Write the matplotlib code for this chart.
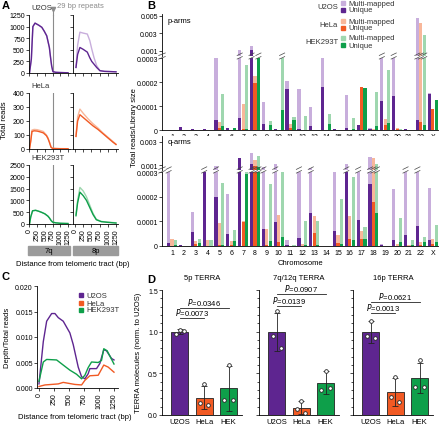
import numpy as np
import matplotlib
matplotlib.use("Agg")
import matplotlib.pyplot as plt
from matplotlib.patches import Rectangle
from matplotlib.ticker import MultipleLocator, FixedLocator

plt.rcParams['font.family'] = ['Liberation Sans', 'DejaVu Sans']
plt.rcParams['font.size'] = 5
plt.rcParams['axes.linewidth'] = 0.6
plt.rcParams['xtick.major.width'] = 0.6
plt.rcParams['ytick.major.width'] = 0.6

PURPLE, PURPLE_L = '#5E2590', '#C8AEDC'
ORANGE, ORANGE_L = '#F15A24', '#F8B79A'
GREEN, GREEN_L = '#0E9F4A', '#9FD7AF'
GREY = '#8C8C8C'

# ---------------- panel A data (distance in bp, total reads) ----------------
u2os_7q_x = [0, 60, 110, 180, 300, 400, 480, 560, 645, 690, 720, 760, 850, 1000, 1250]
u2os_7q_y = [0, 300, 1000, 1075, 1030, 985, 900, 800, 550, 300, 150, 30, 15, 10, 5]
u2os_8p_x = [30, 80, 150, 250, 375, 450, 510, 580, 660, 760, 900, 1100, 1250]
u2os_8p_multi = [120, 600, 880, 860, 840, 700, 520, 330, 160, 50, 35, 30, 25]
u2os_8p_uniq = [120, 400, 550, 510, 450, 330, 250, 190, 120, 50, 35, 30, 25]

hela_7q_x = [0, 40, 80, 150, 250, 350, 450, 550, 600, 650, 700, 750, 850, 1000, 1250]
hela_7q_multi = [0, 60, 135, 140, 138, 132, 125, 100, 80, 50, 15, 5, 4, 3, 2]
hela_7q_uniq = [0, 55, 125, 130, 128, 122, 115, 95, 75, 45, 12, 4, 3, 2, 2]
hela_8p_x = [30, 80, 150, 250, 400, 550, 700, 850, 1000, 1150, 1250]
hela_8p_multi = [90, 230, 285, 255, 215, 180, 150, 115, 85, 55, 35]
hela_8p_uniq = [90, 200, 245, 225, 195, 165, 140, 110, 80, 50, 32]

hek_7q_x = [0, 40, 100, 200, 300, 400, 500, 600, 650, 700, 750, 850, 1000, 1250]
hek_7q_y = [0, 300, 560, 580, 540, 490, 430, 330, 250, 150, 80, 50, 30, 20]
hek_8p_x = [30, 80, 150, 250, 350, 450, 550, 650, 800, 1000, 1250]
hek_8p_multi = [400, 1000, 1550, 1400, 1150, 800, 450, 200, 110, 80, 50]
hek_8p_uniq = [350, 900, 1350, 1200, 1000, 700, 400, 180, 100, 70, 40]

# ---------------- panel B data (total reads / library size) ----------------
chroms = [str(i) for i in range(1, 23)] + ['X']
p_u2os_multi = [2e-6, 12e-6, 4e-6, 4e-6, 298e-6, 8e-6, 1.1e-3, 1.6e-3, 115e-6, 4e-6, 205e-6, 170e-6,
                95e-6, 298e-6, 4e-6, 145e-6, 20e-6, 8e-6, 4e-4, 4e-4, 5e-6, 4.7e-3, 153e-6]
p_u2os_uniq = [2e-6, 12e-6, 3e-6, 3e-6, 42e-6, 8e-6, 50e-6, 1.1e-3, 25e-6, 3e-6, 170e-6, 5e-6,
               17e-6, 180e-6, 3e-6, 8e-6, 20e-6, 5e-6, 120e-6, 140e-6, 4e-6, 42e-6, 150e-6]
p_hela_multi = [0, 0, 0, 0, 33e-6, 2e-6, 110e-6, 225e-6, 0, 2e-6, 25e-6, 0,
                0, 0, 0, 0, 178e-6, 5e-6, 45e-6, 10e-6, 0, 4.2e-3, 88e-6]
p_hela_uniq = [0, 0, 0, 0, 10e-6, 0, 4e-6, 195e-6, 0, 0, 10e-6, 0,
               0, 0, 0, 0, 178e-6, 0, 20e-6, 3e-6, 0, 33e-6, 88e-6]
p_hek_multi = [0, 0, 0, 0, 150e-6, 8e-6, 270e-6, 4.5e-4, 37e-6, 4e-4, 54e-6, 60e-6,
               0, 65e-6, 0, 50e-6, 175e-6, 160e-6, 250e-6, 3e-6, 0, 2.8e-3, 125e-6]
p_hek_uniq = [0, 0, 0, 0, 17e-6, 8e-6, 3e-6, 4.5e-4, 20e-6, 83e-6, 40e-6, 0,
              0, 26e-6, 0, 3e-6, 175e-6, 17e-6, 30e-6, 0, 0, 20e-6, 125e-6]

q_u2os_multi = [4e-4, 5e-6, 137e-6, 4e-4, 9e-4, 210e-6, 1.6e-3, 2.0e-3, 8e-4, 1.1e-3, 25e-6, 4e-4,
                7.4e-4, 0, 298e-6, 1.1e-3, 4e-4, 1.7e-3, 8e-6, 230e-6, 4e-4, 4e-4, 235e-6]
q_u2os_uniq = [12e-6, 3e-6, 57e-6, 4e-4, 200e-6, 50e-6, 1.6e-3, 1.1e-3, 68e-6, 97e-6, 5e-6, 32e-6,
               135e-6, 0, 62e-6, 4e-4, 107e-6, 250e-6, 3e-6, 24e-6, 44e-6, 80e-6, 24e-6]
q_hela_multi = [28e-6, 0, 20e-6, 25e-6, 93e-6, 20e-6, 100e-6, 1.4e-3, 70e-6, 126e-6, 0, 10e-6,
                120e-6, 0, 46e-6, 123e-6, 62e-6, 1.6e-3, 0, 10e-6, 5e-6, 17e-6, 28e-6]
q_hela_uniq = [0, 0, 10e-6, 0, 5e-6, 5e-6, 97e-6, 9e-4, 5e-6, 16e-6, 0, 0,
               53e-6, 0, 12e-6, 28e-6, 28e-6, 180e-6, 0, 0, 0, 5e-6, 10e-6]
q_hek_multi = [24e-6, 0, 30e-6, 24e-6, 255e-6, 63e-6, 298e-6, 1.8e-3, 250e-6, 298e-6, 5e-6, 100e-6,
               100e-6, 0, 190e-6, 280e-6, 77e-6, 1.1e-3, 0, 115e-6, 24e-6, 35e-6, 85e-6]
q_hek_uniq = [5e-6, 0, 12e-6, 0, 5e-6, 20e-6, 290e-6, 8e-4, 20e-6, 37e-6, 0, 5e-6,
              5e-6, 0, 8e-6, 24e-6, 28e-6, 133e-6, 0, 17e-6, 5e-6, 17e-6, 17e-6]

# ---------------- panel C data (depth / total reads) ----------------
c_u2os_x = [0, 72, 128, 211, 266, 321, 404, 515, 571, 654, 710, 765, 820, 848, 959, 1014, 1080, 1125, 1208, 1250]
c_u2os_y = [0.0008, 0.0091, 0.0131, 0.0146, 0.0146, 0.0138, 0.0131, 0.0108, 0.0085, 0.0041, 0.0022,
            0.0018, 0.0028, 0.0038, 0.0038, 0.0048, 0.0075, 0.0073, 0.0058, 0.0055]
c_hela_x = [0, 100, 321, 404, 598, 710, 765, 848, 987, 1080, 1153, 1250]
c_hela_y = [0.0003, 0.0006, 0.0008, 0.0011, 0.0007, 0.0006, 0.0015, 0.0024, 0.0025, 0.0045, 0.0041, 0.0031]
c_hek_x = [0, 72, 128, 294, 404, 515, 626, 710, 765, 820, 876, 987, 1042, 1080, 1136, 1250]
c_hek_y = [0.0013, 0.0051, 0.0056, 0.0055, 0.0045, 0.0035, 0.0027, 0.0018, 0.0025, 0.0040, 0.0051,
           0.0050, 0.0054, 0.0077, 0.0073, 0.0047]

# ---------------- panel D data ----------------
d_cells = ['U2OS', 'HeLa', 'HEK']
d_titles = ['5p TERRA', '7q/12q TERRA', '16p TERRA']
d_points = [
    [[1.02, 0.97, 1.01], [0.37, 0.14, 0.12], [0.60, 0.18, 0.18]],
    [[1.25, 0.95, 0.80], [0.17, 0.07, 0.03], [0.53, 0.30, 0.33]],
    [[1.13, 0.95, 0.92], [0.46, 0.22, 0.16], [0.66, 0.34, 0.34]],
]
d_sd = [[0.03, 0.14, 0.27], [0.23, 0.08, 0.14], [0.13, 0.17, 0.18]]
d_pvals = [[('0.0073', 0, 1, 1.16), ('0.0346', 0, 2, 1.29)],
           [('0.0139', 0, 1, 1.31), ('0.0907', 0, 2, 1.45)],
           [('0.0013', 0, 1, 1.23), ('0.0621', 0, 2, 1.36)]]

W, H = 440, 427
fig = plt.figure(figsize=(4.4, 4.27), dpi=100)


def axpx(l, t, r, b):
    return fig.add_axes([l / W, 1 - b / H, (r - l) / W, (b - t) / H])


def figtext(x, y, s, **kw):
    fig.text(x / W, 1 - y / H, s, **kw)


def style(ax):
    ax.spines['top'].set_visible(False)
    ax.spines['right'].set_visible(False)
    ax.tick_params(length=2, width=0.5, pad=1, labelsize=5)


# ================= A =================
figtext(2, 9, 'A', fontsize=8, fontweight='bold')
rows = [
    ('U2OS', 16, 74, 1250, 250, [(u2os_7q_x, u2os_7q_y, u2os_7q_y)], (u2os_8p_x, u2os_8p_multi, u2os_8p_uniq), PURPLE, PURPLE_L),
    ('HeLa', 94, 150, 400, 100, [(hela_7q_x, hela_7q_multi, hela_7q_uniq)], (hela_8p_x, hela_8p_multi, hela_8p_uniq), ORANGE, ORANGE_L),
    ('HEK293T', 166, 225, 2500, 500, [(hek_7q_x, hek_7q_y, hek_7q_y)], (hek_8p_x, hek_8p_multi, hek_8p_uniq), GREEN, GREEN_L),
]
for k, (name, t, b, ymax, ystep, q7, p8, dark, light) in enumerate(rows):
    ax7 = axpx(29, t, 70, b)
    ax8 = axpx(73, t, 118, b)
    for ax, xl in ((ax7, (-16, 1315)), (ax8, (-61, 1311))):
        style(ax)
        ax.set_xlim(*xl)
        ax.set_ylim(0, ymax)
        ax.xaxis.set_major_locator(MultipleLocator(250))
        ax.yaxis.set_major_locator(MultipleLocator(ystep))
        if k < 2:
            ax.set_xticklabels([])
        else:
            ax.tick_params(axis='x', labelrotation=90)
    ax8.set_yticklabels([])
    xs, ym, yu = q7[0]
    ax7.axvline(750, color=GREY, lw=0.8, zorder=1)
    ax7.plot(xs, ym, color=light, lw=1.0)
    ax7.plot(xs, yu, color=dark, lw=1.0)
    xs, ym, yu = p8
    ax8.plot(xs, ym, color=light, lw=1.0)
    ax8.plot(xs, yu, color=dark, lw=1.0)
    figtext(31, t - 7, name, fontsize=5.5, color='#333333', va='center')

# 29 bp repeats marker
fig.add_artist(plt.Line2D([53 / W, 53 / W], [1 - 16 / H, 1 - 10 / H], color=GREY, lw=0.8))
fig.add_artist(plt.Line2D([53 / W], [1 - 10 / H], marker='v', color=GREY, markersize=3))
figtext(57, 7, '29 bp repeats', fontsize=5.5, color=GREY, va='center')
figtext(5, 120, 'Total reads', fontsize=5.5, rotation=90, ha='center', va='center')
for l, r, s in ((28, 70, '7q'), (73, 118, '8p')):
    fig.add_artist(Rectangle((l / W, 1 - 256 / H), (r - l) / W, 9 / H, color='#9B9B9B', transform=fig.transFigure))
    figtext((l + r) / 2, 251.5, s, fontsize=5.5, ha='center', va='center')
figtext(73, 264, 'Distance from telomeric tract (bp)', fontsize=5.5, ha='center', va='center')

# ================= B =================
figtext(147, 9, 'B', fontsize=8, fontweight='bold')
xpos = np.arange(len(chroms))
cells_p = [(p_u2os_multi, p_u2os_uniq, PURPLE_L, PURPLE),
           (p_hela_multi, p_hela_uniq, ORANGE_L, ORANGE),
           (p_hek_multi, p_hek_uniq, GREEN_L, GREEN)]
cells_q = [(q_u2os_multi, q_u2os_uniq, PURPLE_L, PURPLE),
           (q_hela_multi, q_hela_uniq, ORANGE_L, ORANGE),
           (q_hek_multi, q_hek_uniq, GREEN_L, GREEN)]
LOW_TOP = 0.0003


def slash(ax, x, half):
    tr = ax.get_xaxis_transform()
    for dy in (0.0, 0.05):
        ax.plot([x - half, x + half], [0.985 + dy, 1.02 + dy], color='#444444', lw=0.5,
                transform=tr, clip_on=False, zorder=5)


def broken_panel(top_px, mid_px, low_top_px, zero_px, upper_lim, upper_ticks, cells, label, xlabel):
    axu = axpx(162, top_px, 438, mid_px)
    axl = axpx(162, low_top_px, 438, zero_px)
    for ax in (axu, axl):
        style(ax)
        ax.set_xlim(-0.85, 22.45)
    axu.spines['bottom'].set_visible(False)
    axu.set_xticks([])
    axu.set_ylim(*upper_lim)
    axu.yaxis.set_major_locator(FixedLocator(upper_ticks))
    axu.set_yticklabels(['%.3f' % v for v in upper_ticks])
    axl.set_ylim(0, LOW_TOP)
    axl.set_yticks([0, 0.0001, 0.0002, 0.0003])
    axl.set_yticklabels(['0', '0.0001', '0.0002', '0.0003'])
    axl.set_xticks(xpos)
    axl.set_xticklabels(chroms)
    axl.tick_params(axis='x', length=0, pad=2)
    for i, (multi, uniq, lc, dc) in enumerate(cells):
        off = (i - 1) * 0.29
        for ax in (axu, axl):
            ax.bar(xpos + off, multi, width=0.27, color=lc, linewidth=0)
            ax.bar(xpos + off, uniq, width=0.27, color=dc, linewidth=0)
        for j in range(len(chroms)):
            if max(multi[j], uniq[j]) > LOW_TOP:
                slash(axl, xpos[j] + off, 0.22)
    # break on y axis
    for dy in (0.0, 0.05):
        axl.plot([-0.012, 0.012], [0.985 + dy, 1.02 + dy], color='#444444', lw=0.5,
                 transform=axl.transAxes, clip_on=False)
    axu.text(0.02, 0.93, label, transform=axu.transAxes, fontsize=5.5, va='top')
    if xlabel:
        axl.set_xlabel(xlabel, fontsize=5.5, labelpad=2)
    return axu, axl


broken_panel(15, 57, 59, 131, (0.00043, 0.0052), [0.001, 0.003, 0.005], cells_p, 'p-arms', None)
broken_panel(137, 171, 173, 247, (0.00057, 0.0035), [0.001, 0.003], cells_q, 'q-arms', 'Chromosome')
figtext(134, 128, 'Total reads/Library size', fontsize=5.5, rotation=90, ha='center', va='center')

# legend B
leg = [('U2OS', 4, PURPLE_L, PURPLE), ('HeLa', 22, ORANGE_L, ORANGE), ('HEK293T', 39, GREEN_L, GREEN)]
for name, y0, lc, dc in leg:
    figtext(338, y0 + 3.5, name, fontsize=5.5, ha='right', va='center', color='#333333')
    for dy, c, s in ((0, lc, 'Multi-mapped'), (7, dc, 'Unique')):
        fig.add_artist(Rectangle((341 / W, 1 - (y0 + dy + 2) / H), 4 / W, 4 / H, color=c, transform=fig.transFigure))
        figtext(348, y0 + dy, s, fontsize=5.5, va='center', color='#333333')

# ================= C =================
figtext(2, 280, 'C', fontsize=8, fontweight='bold')
axc = axpx(37, 287, 118, 389)
style(axc)
axc.plot(c_u2os_x, c_u2os_y, color=PURPLE, lw=1.0, label='U2OS')
axc.plot(c_hela_x, c_hela_y, color=ORANGE, lw=1.0, label='HeLa')
axc.plot(c_hek_x, c_hek_y, color=GREEN, lw=1.0, label='HEK293T')
axc.set_xlim(-33, 1317)
axc.set_ylim(0, 0.020)
axc.xaxis.set_major_locator(MultipleLocator(250))
axc.yaxis.set_major_locator(MultipleLocator(0.005))
axc.yaxis.set_major_formatter(plt.FormatStrFormatter('%.3f'))
axc.tick_params(axis='x', labelrotation=90)
figtext(8, 338, 'Depth/Total reads', fontsize=5.5, rotation=90, ha='center', va='center')
figtext(75, 418, 'Distance from telomeric tract (bp)', fontsize=5.5, ha='center', va='center')
for y0, c, s in ((296, PURPLE, 'U2OS'), (304, ORANGE, 'HeLa'), (311, GREEN, 'HEK293T')):
    fig.add_artist(Rectangle((79 / W, 1 - (y0 + 2) / H), 4 / W, 4 / H, color=c, transform=fig.transFigure))
    figtext(86, y0, s, fontsize=5.5, va='center', color='#333333')

# ================= D =================
figtext(147, 283, 'D', fontsize=8, fontweight='bold')
d_colors = [PURPLE, ORANGE, GREEN]
jit = [0.0, -0.17, 0.17]
for k, l in enumerate((162, 259, 353)):
    ax = axpx(l, 291, l + 80, 416)
    style(ax)
    ax.set_xlim(-0.73, 2.55)
    ax.set_ylim(0, 1.5)
    ax.yaxis.set_major_locator(MultipleLocator(0.5))
    ax.yaxis.set_minor_locator(MultipleLocator(0.1))
    ax.tick_params(axis='y', which='minor', length=1.2, width=0.5)
    means = [np.mean(p) for p in d_points[k]]
    ax.bar(range(3), means, width=0.7, color=d_colors, edgecolor='#222222', linewidth=0.6)
    ax.errorbar(range(3), means, yerr=d_sd[k], fmt='none', ecolor='#222222', elinewidth=0.6,
                capsize=2.5, capthick=0.6)
    for i, pts in enumerate(d_points[k]):
        ax.scatter([i + jit[j] for j in range(len(pts))], pts, s=7, facecolor='white',
                   edgecolor='#222222', linewidth=0.6, zorder=4)
    ax.set_xticks(range(3))
    ax.set_xticklabels(d_cells, fontsize=5.5)
    ax.tick_params(axis='x', length=0, pad=2)
    if k > 0:
        ax.set_yticklabels([])
    ax.set_title(d_titles[k], fontsize=5.5, pad=8)
    for pv, a, bb, y in d_pvals[k]:
        ax.plot([a, bb], [y, y], color='#222222', lw=0.6, clip_on=False)
        ax.text((a + bb) / 2, y + 0.01, r'$\it{P}$=' + pv, ha='center', va='bottom', fontsize=5.5)
figtext(138, 353, 'TERRA molecules (norm. to U2OS)', fontsize=5.5, rotation=90, ha='center', va='center')

fig.savefig('out.png', dpi=100)
